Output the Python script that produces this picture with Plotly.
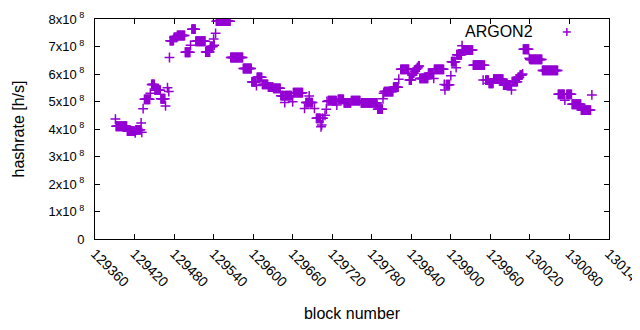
import plotly.graph_objects as go

# Runs of consecutive blocks that share one hashrate value
run_first_block = [
    129391, 129392, 129409, 129421, 129422, 129430, 129431, 129433, 129435, 129444,
    129446, 129451, 129460, 129467, 129470, 129472, 129473, 129474, 129480, 129485,
    129497, 129505, 129507, 129513, 129528, 129535, 129540, 129541, 129543, 129544,
    129566, 129585, 129598, 129605, 129606, 129614, 129623, 129631, 129642, 129648,
    129649, 129660, 129661, 129678, 129680, 129685, 129686, 129693, 129696, 129703,
    129704, 129705, 129709, 129711, 129712, 129714, 129727, 129729, 129738, 129749,
    129764, 129789, 129797, 129798, 129799, 129813, 129821, 129824, 129837, 129841,
    129843, 129845, 129847, 129849, 129851, 129853, 129866, 129874, 129875, 129890,
    129891, 129893, 129900, 129901, 129908, 129909, 129917, 129918, 129934, 129949,
    129950, 129953, 129958, 129965, 129980, 129992, 129993, 130002, 130005, 130009,
    130010, 130019, 130020, 130039, 130063, 130073, 130076, 130084, 130098, 130114,
]
run_last_block = [
    129391, 129408, 129420, 129421, 129429, 129430, 129431, 129433, 129443, 129444,
    129450, 129459, 129466, 129467, 129470, 129472, 129473, 129479, 129484, 129496,
    129504, 129505, 129512, 129527, 129534, 129539, 129540, 129541, 129543, 129565,
    129584, 129597, 129604, 129605, 129613, 129622, 129630, 129641, 129647, 129648,
    129658, 129660, 129675, 129678, 129684, 129685, 129690, 129693, 129702, 129703,
    129704, 129706, 129709, 129711, 129712, 129726, 129727, 129737, 129748, 129762,
    129788, 129796, 129797, 129798, 129812, 129820, 129821, 129836, 129840, 129842,
    129844, 129846, 129848, 129850, 129852, 129865, 129873, 129874, 129889, 129890,
    129891, 129898, 129900, 129907, 129908, 129916, 129917, 129933, 129948, 129949,
    129951, 129957, 129964, 129979, 129991, 129992, 130001, 130004, 130008, 130009,
    130018, 130019, 130038, 130062, 130072, 130073, 130083, 130097, 130112, 130114,
]
run_hashrate = [
    4.36e8, 4.10e8, 3.92e8, 3.86e8, 3.97e8, 4.22e8, 3.88e8, 4.74e8, 5.08e8, 5.30e8,
    5.62e8, 5.41e8, 5.10e8, 4.84e8, 5.50e8, 5.36e8, 6.60e8, 7.21e8, 7.33e8, 7.40e8,
    6.79e8, 7.05e8, 7.63e8, 7.19e8, 6.80e8, 7.00e8, 7.27e8, 7.05e8, 7.48e8, 7.92e8,
    6.60e8, 6.20e8, 5.71e8, 5.58e8, 5.88e8, 5.62e8, 5.52e8, 5.48e8, 5.21e8, 4.96e8,
    5.21e8, 4.99e8, 5.32e8, 4.75e8, 4.96e8, 5.20e8, 4.96e8, 4.75e8, 4.39e8, 4.08e8,
    4.15e8, 4.39e8, 4.50e8, 4.72e8, 5.00e8, 5.03e8, 4.87e8, 5.08e8, 4.95e8, 5.03e8,
    4.95e8, 4.72e8, 5.10e8, 5.30e8, 5.36e8, 5.52e8, 5.81e8, 6.17e8, 5.78e8, 5.96e8,
    6.03e8, 6.10e8, 6.17e8, 6.23e8, 6.29e8, 5.84e8, 6.03e8, 5.84e8, 6.17e8, 5.62e8,
    5.42e8, 5.61e8, 5.94e8, 6.45e8, 6.23e8, 6.70e8, 7.03e8, 6.87e8, 6.32e8, 5.78e8,
    6.32e8, 5.78e8, 5.66e8, 5.81e8, 5.60e8, 5.42e8, 5.72e8, 5.88e8, 5.96e8, 6.00e8,
    6.90e8, 6.57e8, 6.53e8, 6.13e8, 5.26e8, 5.05e8, 5.26e8, 4.90e8, 4.69e8, 5.24e8,
]

x_tick_values = [129360, 129420, 129480, 129540, 129600, 129660, 129720,
                 129780, 129840, 129900, 129960, 130020, 130080, 130140]
x_tick_labels = [str(v) for v in x_tick_values]
y_tick_values = [0, 1e8, 2e8, 3e8, 4e8, 5e8, 6e8, 7e8, 8e8]
y_tick_labels = ["0"] + [f"{i}x10<sup> 8</sup>" for i in range(1, 9)]
series_name = "ARGON2"

blocks, rates = [], []
for b0, b1, v in zip(run_first_block, run_last_block, run_hashrate):
    for b in range(b0, b1 + 1):
        blocks.append(b)
        rates.append(v)

COLOR = "#9400D3"
FONT = "Liberation Sans, Arial, sans-serif"

fig = go.Figure()
fig.add_trace(go.Scatter(
    x=blocks, y=rates, mode="markers", name=series_name, showlegend=False,
    marker=dict(symbol="cross-thin", size=7, line=dict(color=COLOR, width=1.5), color=COLOR),
))

axis_common = dict(showline=True, linecolor="black", linewidth=1, mirror="ticks",
                   ticks="inside", ticklen=5, tickcolor="black", showgrid=False,
                   zeroline=False, automargin=False, ticklabeloverflow="allow")

fig.update_layout(
    width=624, height=314,
    margin=dict(l=87, r=23, t=11, b=83),
    paper_bgcolor="white", plot_bgcolor="white",
    font=dict(family=FONT, size=13, color="black"),
    xaxis=dict(range=[129360, 130140], tickvals=x_tick_values, ticktext=x_tick_labels,
               tickangle=45, tickfont=dict(family=FONT, size=14, color="black"),
               title=dict(text="block number", font=dict(size=16), standoff=25),
               **axis_common),
    yaxis=dict(range=[0, 8e8], tickvals=y_tick_values, ticktext=y_tick_labels,
               ticklabelstandoff=7, tickfont=dict(family=FONT, size=13, color="black"),
               title=dict(text="hashrate [h/s]", font=dict(size=16), standoff=20),
               **axis_common),
    annotations=[dict(text=series_name, xref="paper", yref="paper", x=0.856, y=0.941,
                      xanchor="right", yanchor="middle", showarrow=False,
                      font=dict(family=FONT, size=16, color="black"))],
    shapes=[
        dict(type="line", xref="paper", yref="paper", x0=0.918 - 0.0078, x1=0.918 + 0.0078,
             y0=0.941, y1=0.941, line=dict(color=COLOR, width=1.5)),
        dict(type="line", xref="paper", yref="paper", x0=0.918, x1=0.918,
             y0=0.941 - 0.018, y1=0.941 + 0.018, line=dict(color=COLOR, width=1.5)),
    ],
)

fig.write_html("out.html")
